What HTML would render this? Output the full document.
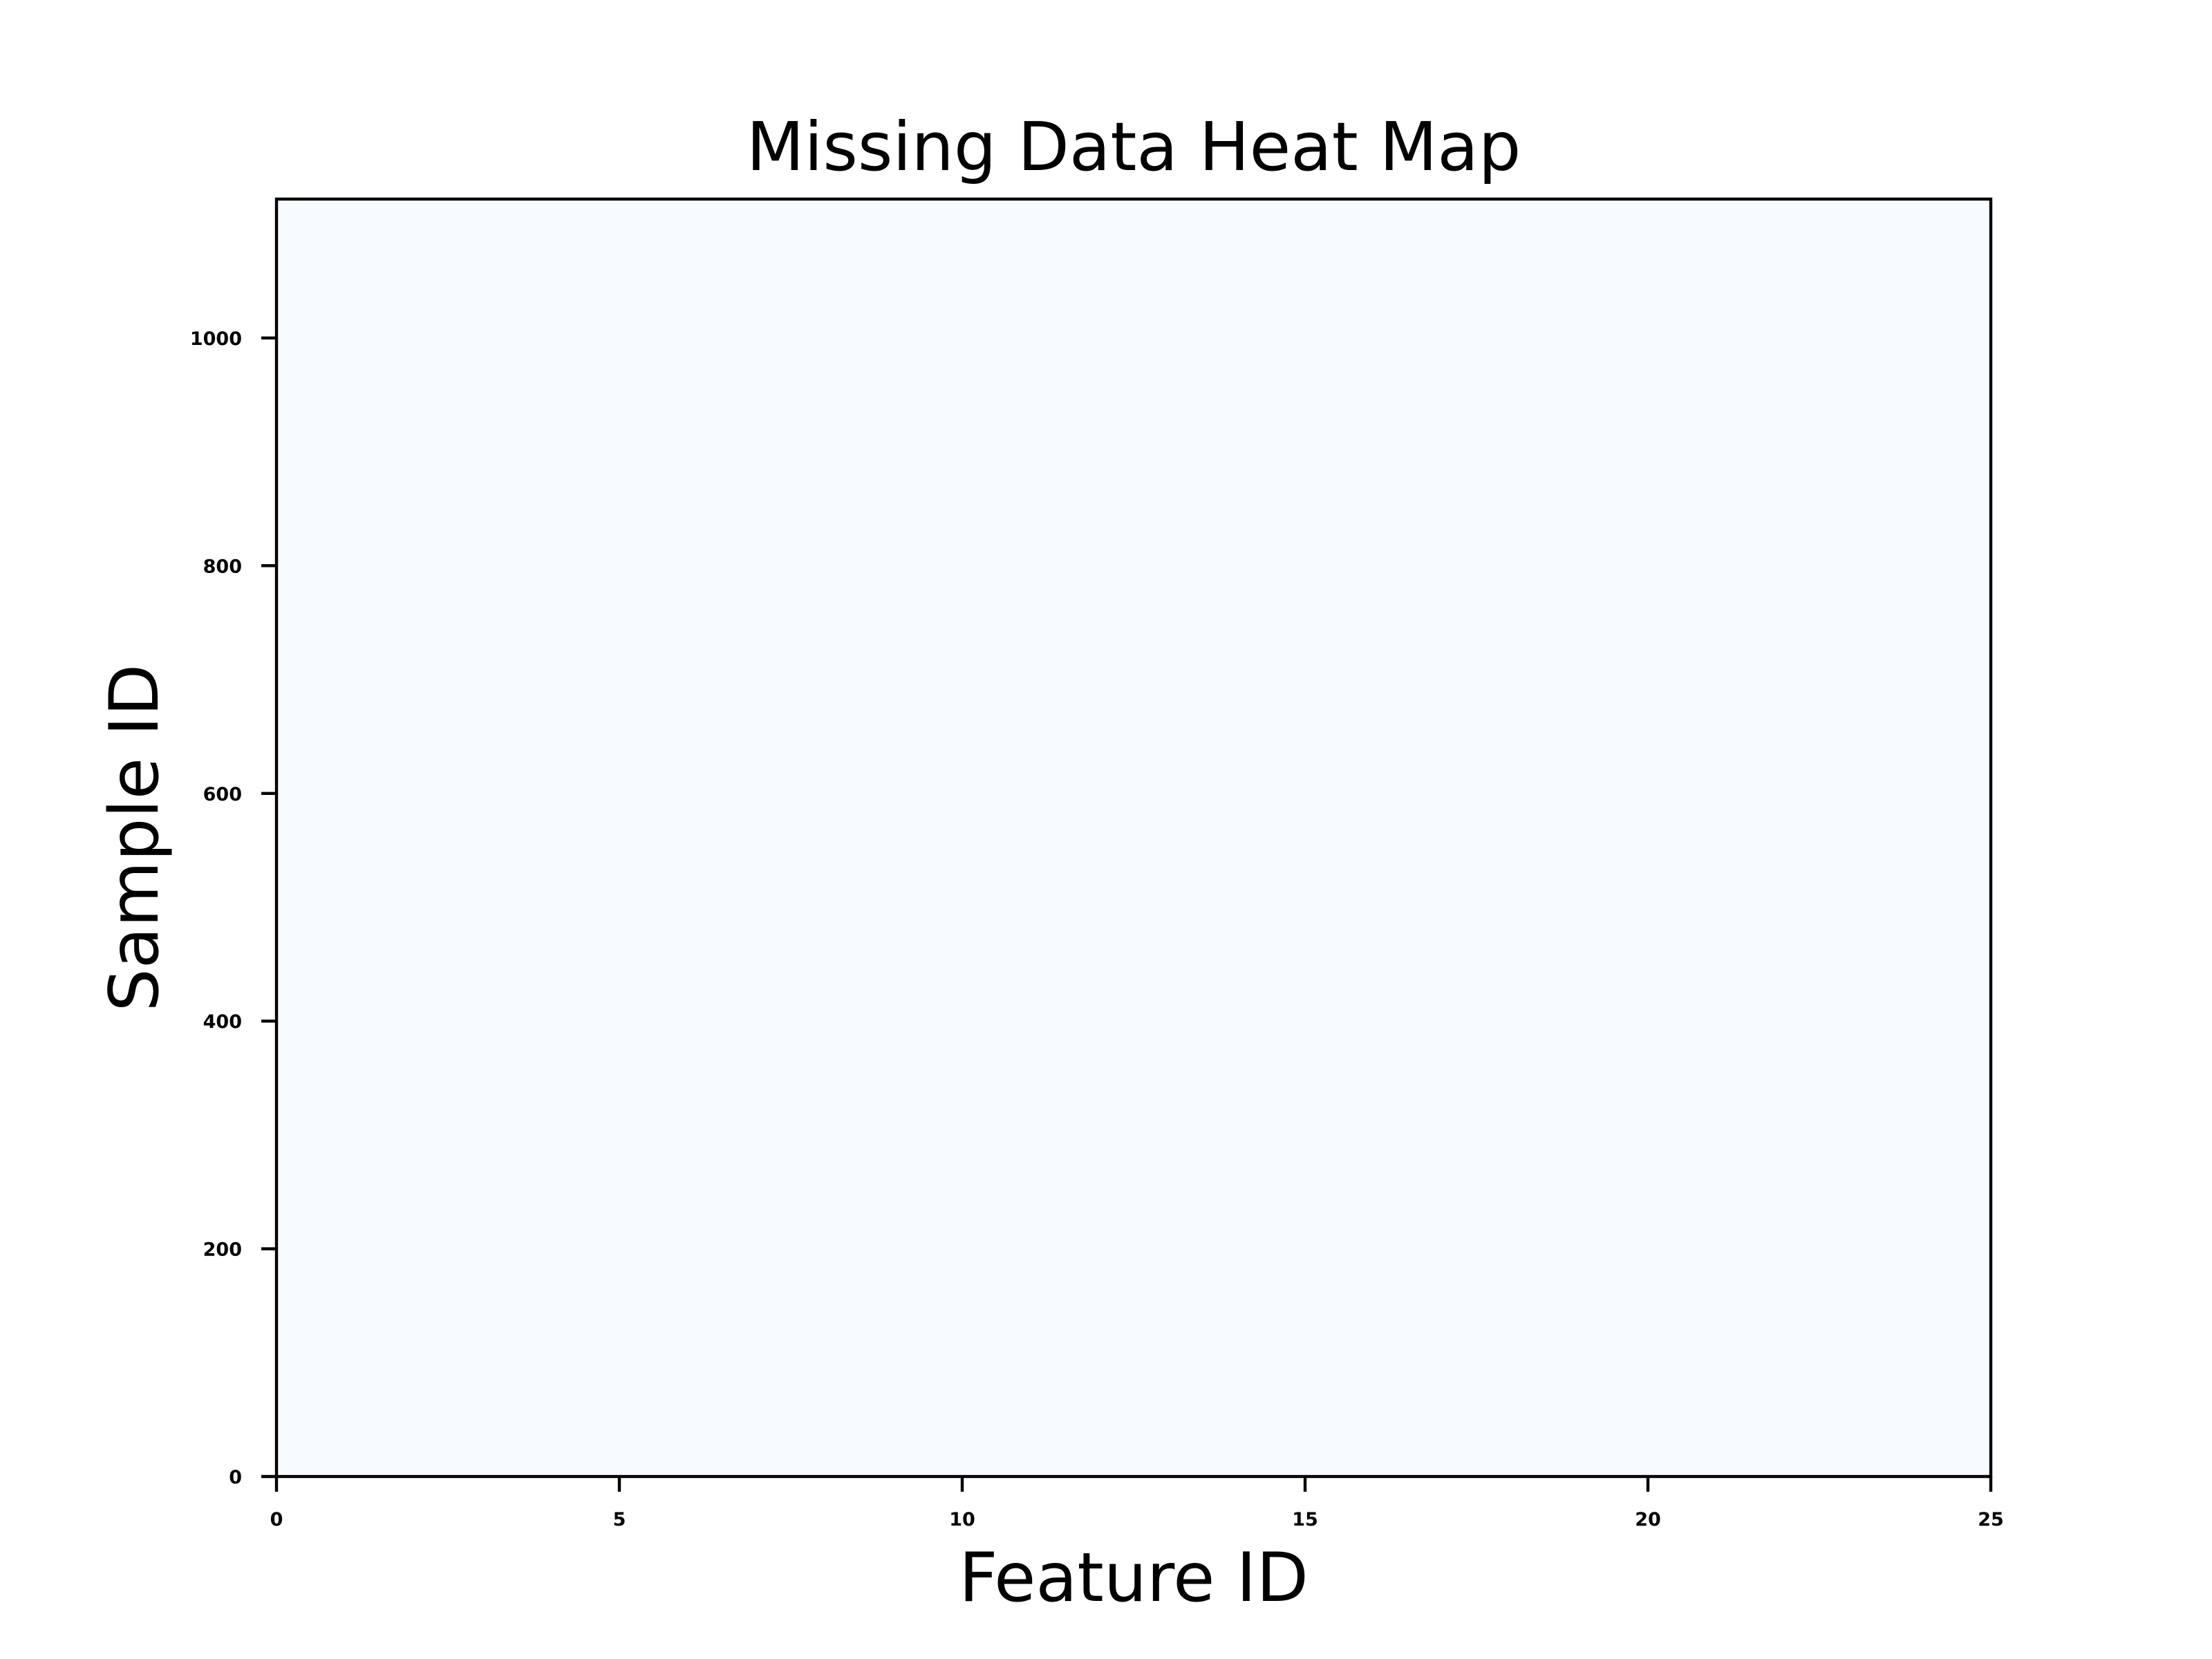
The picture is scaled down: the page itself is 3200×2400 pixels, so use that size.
<!DOCTYPE html>
<html><head><meta charset="utf-8"><style>
html,body{margin:0;padding:0;background:#fff;}
svg{display:block;font-family:"DejaVu Sans","Liberation Sans",sans-serif;}
</style></head><body>
<svg id="chart" width="3200" height="2400" viewBox="0 0 3200 2400" xmlns="http://www.w3.org/2000/svg">
<rect width="3200" height="2400" fill="#fff"/>
<g id="cells"></g>
<g id="axes"></g>
<text x="1640" y="246" font-size="97" text-anchor="middle">Missing Data Heat Map</text>
<text x="1640" y="2316" font-size="98" text-anchor="middle">Feature ID</text>
<text transform="translate(228,1212) rotate(-90)" font-size="98" text-anchor="middle">Sample ID</text>
</svg>
<script>
const features = [0,1,2,3,4,5,6,7,8,9,10,11,12,13,14,15,16,17,18,19,20,21,22,23,24];
const missingRate = [0,0,0,0,0,0,0,0,0,0,0,0,0,0,0,0,0,0,0,0,0,0,0,0,0];
const sampleCount = 1122;
const xTicks = [0,5,10,15,20,25];
const yTicks = [0,200,400,600,800,1000];

const L=400,R=2880,T=288,B=2136;
const xMax=25;
const sx=v=>L+(v/xMax)*(R-L);
const sy=v=>B-(v/sampleCount)*(B-T);
const ns="http://www.w3.org/2000/svg";
function color(t){
  const a=[247,251,255], b=[8,48,107];
  const c=a.map((v,i)=>Math.round(v+(b[i]-v)*t));
  return `rgb(${c[0]},${c[1]},${c[2]})`;
}
const cells=document.getElementById('cells');
features.forEach((f,i)=>{
  const r=document.createElementNS(ns,'rect');
  r.setAttribute('x',sx(f));
  r.setAttribute('y',sy(sampleCount));
  r.setAttribute('width',sx(f+1)-sx(f)+0.5);
  r.setAttribute('height',sy(0)-sy(sampleCount));
  r.setAttribute('fill',color(missingRate[i]));
  
  
  cells.appendChild(r);
});
const axes=document.getElementById('axes');
const frame=document.createElementNS(ns,'rect');
frame.setAttribute('x',L);frame.setAttribute('y',T);
frame.setAttribute('width',R-L);frame.setAttribute('height',B-T);
frame.setAttribute('fill','none');frame.setAttribute('stroke','#000');frame.setAttribute('stroke-width','4.4');


axes.appendChild(frame);
xTicks.forEach(v=>{
  const l=document.createElementNS(ns,'line');
  l.setAttribute('x1',sx(v));l.setAttribute('x2',sx(v));
  l.setAttribute('y1',B);l.setAttribute('y2',B+22);
  l.setAttribute('stroke','#000');l.setAttribute('stroke-width','4.4');
  
  
  axes.appendChild(l);
  const t=document.createElementNS(ns,'text');
  t.setAttribute('x',sx(v));t.setAttribute('y',B+71);
  t.setAttribute('font-size','27');t.setAttribute('font-weight','bold');t.setAttribute('text-anchor','middle');
  t.textContent=v;
  
  
  axes.appendChild(t);
});
yTicks.forEach(v=>{
  const l=document.createElementNS(ns,'line');
  l.setAttribute('x1',L-22);l.setAttribute('x2',L);
  l.setAttribute('y1',sy(v));l.setAttribute('y2',sy(v));
  l.setAttribute('stroke','#000');l.setAttribute('stroke-width','4.4');
  
  
  axes.appendChild(l);
  const t=document.createElementNS(ns,'text');
  t.setAttribute('x',L-50);t.setAttribute('y',sy(v)+10);
  t.setAttribute('font-size','27');t.setAttribute('font-weight','bold');t.setAttribute('text-anchor','end');
  t.textContent=v;
  
  
  axes.appendChild(t);
});
</script>
</body></html>
